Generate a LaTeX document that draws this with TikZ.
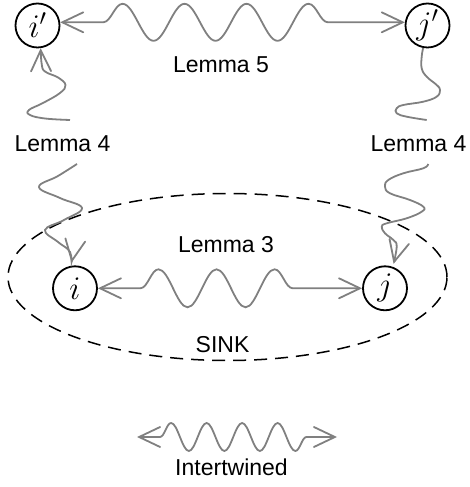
\documentclass[tikz,border=0pt]{standalone}
\usepackage{fix-cm}
\usepackage{fontspec}
\setmainfont{Liberation Sans}
\usetikzlibrary{arrows.meta,decorations.pathmorphing,shapes.geometric}
\begin{document}
\begin{tikzpicture}[x=1pt,y=1pt,
  vtx/.style={circle, draw=black, line width=1.8pt, minimum size=44pt, inner sep=0pt, fill=white, font=\fontsize{33}{38}\selectfont},
  lbl/.style={anchor=base, inner sep=0pt, font=\fontsize{23}{27}\selectfont},
  wire/.style={draw=gray, line width=1.8pt, >={Straight Barb[length=21pt,width=20pt,line cap=round]}},
  sinkset/.style={ellipse, draw=black, line width=1.5pt, dash pattern=on 13pt off 8pt, minimum width=439pt, minimum height=167pt, inner sep=0pt}]
\useasboundingbox (0,0) rectangle (470,487);
% sink region
\node[sinkset] (sink) at (227.5,210) {};
% vertices
\node[vtx] (ip) at (37.5,461.5) {$i'$};
\node[vtx] (jp) at (427.5,461.5) {$j'$};
\node[vtx] (i) at (75,198.7) {$i$};
\node[vtx] (j) at (385,198.7) {$j$};
% labels
\node[lbl] (l5) at (221,414) {Lemma 5};
\node[lbl] (l4a) at (62.5,335) {Lemma 4};
\node[lbl] (l4b) at (418.5,335) {Lemma 4};
\node[lbl] (l3) at (226,234) {Lemma 3};
\node[lbl] (sinklbl) at (222.5,134) {SINK};
\node[lbl] (intw) at (231.5,11) {Intertwined};
% horizontal snakes
\draw[wire,<->,decorate,decoration={snake,amplitude=18.5pt,segment length=62pt,pre length=43pt,post length=46.9pt}] (ip.8) -- (jp.172);
\draw[wire,<->,decorate,decoration={snake,amplitude=19pt,segment length=58pt,pre length=42.5pt,post length=41.5pt}] (i) -- (j);
% legend
\coordinate (la) at (137,50);
\coordinate (lb) at (337,50);
\draw[wire,<->,decorate,decoration={snake,amplitude=14pt,segment length=35.5pt,pre length=23pt,post length=29.5pt}] (la) -- (lb);
% vertical wiggles
\coordinate (t1) at (70,367);
\coordinate (t2) at (426.7,367);
\coordinate (t3) at (77,323);
\coordinate (t4) at (428.3,323);
\draw[wire,->] plot[smooth,tension=0.7] coordinates {(t1) (45,368.5) (30,372) (29,377) (43,384) (60,394) (65.5,402) (58,409.5) (45,415.5) (41.7,423) (ip.-82)};
\draw[wire] plot[smooth,tension=0.7] coordinates {(jp.-101) (421.7,430.3) (421.7,418.7) (426.7,410.3) (436.7,402) (440,397) (436.7,390.3) (423.3,385.3) (403.3,382) (396.7,378.7) (396.7,373.7) (406.7,370.3) (t2)};
\draw[wire,->,shorten >=3pt] plot[smooth,tension=0.7] coordinates {(t3) (58,311) (39,300) (60,289) (82,279) (64,267) (45,257) (58,245) (70,235) (i.100)};
\draw[wire,->,shorten >=3pt] plot[smooth,tension=0.7] coordinates {(t4) (423.3,318.7) (403.3,313.7) (388.3,307) (385,300.3) (390,293.7) (410,287) (423.3,280.3) (421.7,275.3) (406.7,268.7) (386.7,263.7) (381.7,260.3) (385,253.7) (393.3,247) (396.7,240.3) (j.70)};
\end{tikzpicture}
\end{document}
